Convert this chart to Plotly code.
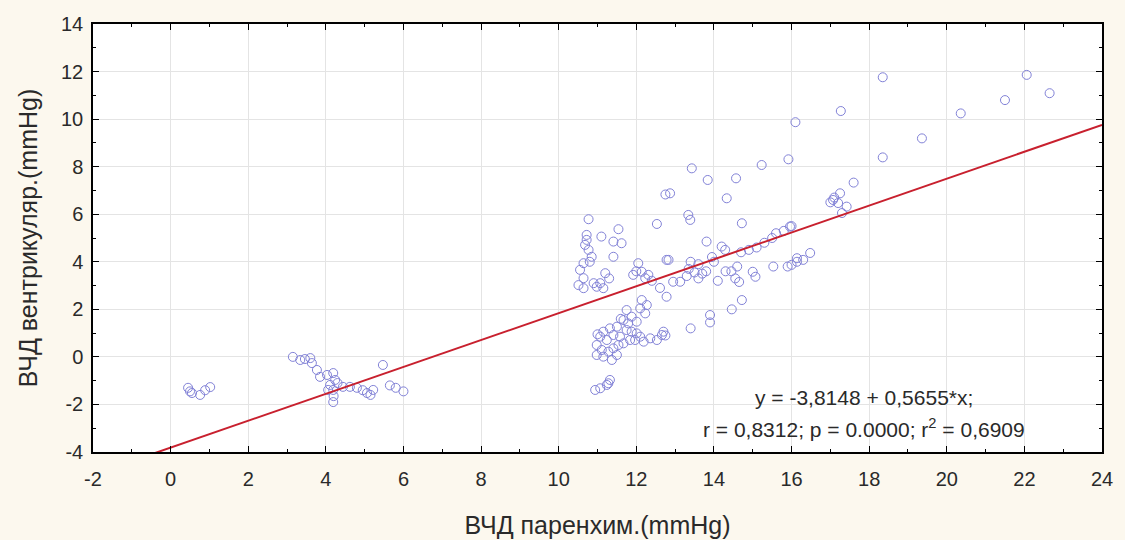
import plotly.graph_objects as go

# ---- data ----
x_low = [0.45, 0.55, 0.76, 0.89, 1.02, 0.50]
y_low = [-1.30, -1.52, -1.60, -1.40, -1.27, -1.45]

x_mid = [3.15, 3.34, 3.46, 3.60, 3.64, 3.77, 3.85, 4.03, 4.19, 4.24, 4.11, 4.19, 4.19, 4.20,
         4.06, 4.44, 4.62, 4.80, 5.06, 5.22, 5.47, 5.65, 5.80, 6.00, 4.95, 5.15, 4.30]
y_mid = [0.00, -0.13, -0.09, -0.05, -0.26, -0.55, -0.84, -0.76, -0.68, -0.97, -1.18, -1.39, -1.90, -1.65,
         -1.39, -1.26, -1.26, -1.30, -1.52, -1.39, -0.34, -1.20, -1.30, -1.45, -1.40, -1.60, -1.10]

x_c1 = [10.77, 10.72, 10.72, 10.68, 10.77, 10.85, 10.64, 10.55, 10.64, 10.51, 10.64, 10.90, 10.98,
        11.07, 11.20, 11.15, 11.10, 11.54, 11.41, 11.62, 11.41, 11.30, 10.80]
y_c1 = [5.79, 5.13, 4.92, 4.71, 4.50, 4.21, 3.94, 3.66, 3.31, 3.02, 2.89, 3.10, 2.95,
        3.10, 3.52, 2.89, 5.06, 5.37, 4.85, 4.78, 4.21, 3.30, 4.00]

x_c2 = [12.53, 12.05, 11.92, 12.14, 12.31, 12.23, 12.78, 12.78, 12.95, 12.61, 12.14, 12.27, 12.10,
        12.23, 12.40, 12.00]
y_c2 = [5.59, 3.94, 3.45, 3.58, 3.45, 3.31, 4.08, 2.53, 3.16, 2.90, 2.39, 2.18, 2.04,
        1.83, 3.20, 3.60]

x_c3 = [11.75, 11.88, 12.01, 11.79, 11.67, 11.50, 11.32, 11.15, 11.07, 11.41, 11.58, 11.24, 10.98,
        11.11, 11.28, 11.41, 11.54, 11.67, 11.84, 10.98, 11.15, 11.37, 11.50, 12.10, 12.19, 11.97,
        12.36, 12.53, 12.66, 12.70, 11.75, 11.88, 12.01, 11.32, 11.24, 11.07, 10.94, 11.28, 11.00, 11.60]
y_c3 = [1.97, 1.69, 1.48, 1.41, 1.55, 1.27, 1.20, 1.06, 0.85, 0.92, 0.85, 0.71, 0.50,
        0.29, 0.22, 0.36, 0.50, 0.57, 0.71, 0.08, 0.01, -0.13, 0.08, 0.85, 0.64, 0.71,
        0.78, 0.71, 0.92, 1.06, 1.13, 1.06, 0.99, -0.97, -1.18, -1.32, -1.39, -1.11, 0.95, 1.60]

x_c4 = [13.43, 13.84, 14.57, 15.23, 15.92, 12.87, 12.75, 14.33, 13.34, 13.39, 14.72, 13.81, 14.20,
        14.29, 12.83, 13.40, 13.35, 13.50, 13.30, 13.70, 13.60, 13.80, 13.95, 14.60, 14.55, 14.65,
        15.00, 15.07, 15.53, 15.90, 16.00, 16.14, 13.13, 14.72, 14.46, 13.90, 13.90, 13.40, 12.75,
        14.10, 14.30, 14.45, 14.90, 15.10, 15.30, 15.50, 15.60, 15.80, 16.00, 14.70, 15.96, 16.48,
        16.30, 16.14, 14.00, 13.60]
y_c4 = [7.93, 7.44, 7.51, 8.07, 8.31, 6.88, 6.83, 6.67, 5.97, 5.76, 5.62, 4.85, 4.64,
        4.50, 4.08, 4.00, 3.70, 3.55, 3.40, 3.50, 3.90, 3.60, 4.20, 3.80, 3.30, 3.15,
        3.58, 3.37, 3.80, 3.80, 3.87, 4.15, 3.16, 2.39, 2.00, 1.76, 1.45, 1.20, 0.90,
        3.20, 3.60, 3.60, 4.50, 4.60, 4.80, 5.00, 5.20, 5.30, 5.50, 4.40, 5.48, 4.37,
        4.08, 4.00, 4.00, 3.30]

x_hi = [18.35, 22.06, 22.65, 21.50, 20.36, 17.27, 16.10, 18.35, 19.36, 17.60, 17.25, 17.07, 17.20,
        17.42, 17.00, 17.30, 17.10]
y_hi = [11.76, 11.86, 11.09, 10.80, 10.24, 10.34, 9.87, 8.39, 9.19, 7.33, 6.88, 6.60, 6.47,
        6.32, 6.50, 6.05, 6.70]

x_vals = x_low + x_mid + x_c1 + x_c2 + x_c3 + x_c4 + x_hi
y_vals = y_low + y_mid + y_c1 + y_c2 + y_c3 + y_c4 + y_hi

INTERCEPT = -3.8148
SLOPE = 0.5655
fit_x = [-2, 24]
fit_y = [INTERCEPT + SLOPE * v for v in fit_x]

x_ticks = [-2, 0, 2, 4, 6, 8, 10, 12, 14, 16, 18, 20, 22, 24]
y_ticks = [-4, -2, 0, 2, 4, 6, 8, 10, 12, 14]

eq_line1 = "y = -3,8148 + 0,5655*x;"
eq_line2 = "r = 0,8312; p = 0.0000; r<sup>2</sup> = 0,6909"

FONT = "Liberation Sans, Arial, sans-serif"
TXT = "#2a2a2a"

fig = go.Figure()
fig.add_trace(go.Scatter(
    x=x_vals, y=y_vals, mode="markers",
    marker=dict(symbol="circle-open", size=9, color="rgb(130,130,215)", line=dict(width=1)),
    showlegend=False, hoverinfo="x+y"))
fig.add_trace(go.Scatter(
    x=fit_x, y=fit_y, mode="lines",
    line=dict(color="#c8202e", width=2),
    showlegend=False))

axis_common = dict(
    showline=True, linecolor="black", linewidth=1.5, mirror="ticks",
    ticks="inside", ticklen=6, tickwidth=1, tickcolor="black",
    showgrid=True, gridcolor="#e4e4e4", gridwidth=1, zeroline=False,
    tickfont=dict(family=FONT, size=20, color=TXT),
    minor=dict(ticks="inside", ticklen=3, tickcolor="black", showgrid=False),
    automargin=False,
)

fig.update_xaxes(range=[-2, 24], tickvals=x_ticks, ticktext=[str(v) for v in x_ticks],
                 minor_dtick=1, minor_tick0=0, ticklabelstandoff=8,
                 title=dict(text="ВЧД паренхим.(mmHg)", font=dict(family=FONT, size=25, color=TXT),
                            standoff=28),
                 **axis_common)
fig.update_yaxes(range=[-4, 14], tickvals=y_ticks, ticktext=[str(v) for v in y_ticks],
                 minor_dtick=1, minor_tick0=0, ticklabelstandoff=4,
                 title=dict(text="ВЧД вентрикуляр.(mmHg)", font=dict(family=FONT, size=25, color=TXT),
                            standoff=16),
                 **axis_common)

fig.add_annotation(xref="paper", yref="paper", x=0.764, y=(452 - 397) / 428, text=eq_line1,
                   showarrow=False, xanchor="center", yanchor="middle",
                   font=dict(family=FONT, size=21, color=TXT))
fig.add_annotation(xref="paper", yref="paper", x=0.764, y=(452 - 428) / 428, text=eq_line2,
                   showarrow=False, xanchor="center", yanchor="middle",
                   font=dict(family=FONT, size=21, color=TXT))

fig.update_layout(
    width=1125, height=540,
    margin=dict(l=93, r=23, t=24, b=88),
    paper_bgcolor="#fcf8ee", plot_bgcolor="white",
    font=dict(family=FONT, color=TXT),
)

fig.write_html("out.html")
